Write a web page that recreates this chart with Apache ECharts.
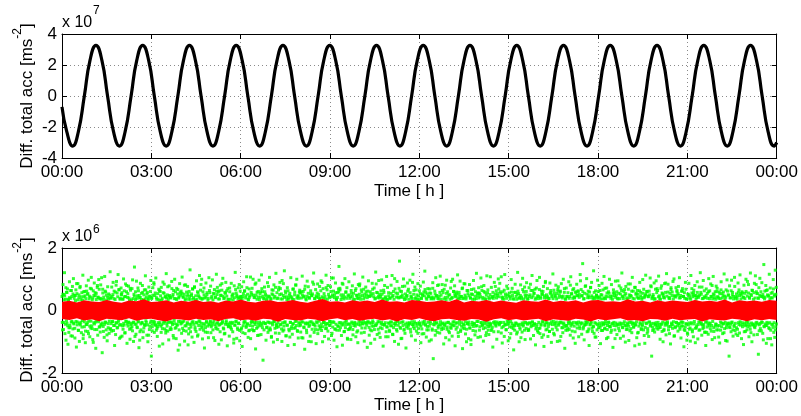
<!DOCTYPE html>
<html><head><meta charset="utf-8">
<script src="https://cdn.jsdelivr.net/npm/echarts@6/dist/echarts.min.js"></script>
<style>html,body{margin:0;padding:0;background:#fff}#c{width:801px;height:416px}</style>
</head><body><div id="c"></div>
<script>
const FONT = "'Liberation Sans', Arial, Helvetica, sans-serif";
// x tick labels (hours 0..24 every 3 h)
const timeTicks = [0, 3, 6, 9, 12, 15, 18, 21, 24];
const timeTickLabels = ['00:00','03:00','06:00','09:00','12:00','15:00','18:00','21:00','00:00'];
// top panel: difference total acceleration (x 10^7) read at extrema / eighth-periods
const sineTimes = [0, 0.16,
 0.36,0.55,0.75,0.94,1.14,1.34,1.53,1.73,
 1.93,2.12,2.32,2.51,2.71,2.91,3.10,3.30,
 3.50,3.69,3.89,4.08,4.28,4.48,4.67,4.87,
 5.07,5.26,5.46,5.65,5.85,6.05,6.24,6.44,
 6.64,6.83,7.03,7.22,7.42,7.62,7.81,8.01,
 8.21,8.40,8.60,8.79,8.99,9.19,9.38,9.58,
 9.78,9.97,10.17,10.36,10.56,10.76,10.95,11.15,
 11.35,11.54,11.74,11.93,12.13,12.33,12.52,12.72,
 12.92,13.11,13.31,13.50,13.70,13.90,14.09,14.29,
 14.49,14.68,14.88,15.07,15.27,15.47,15.66,15.86,
 16.06,16.25,16.45,16.64,16.84,17.04,17.23,17.43,
 17.63,17.82,18.02,18.21,18.41,18.61,18.80,19.00,
 19.20,19.39,19.59,19.78,19.98,20.18,20.37,20.57,
 20.77,20.96,21.16,21.35,21.55,21.75,21.94,22.14,
 22.34,22.53,22.73,22.92,23.12,23.32,23.51,23.71,
 23.91, 24];
const sineValues = [-0.7, -2.3,
 -3.23,-2.3,0,2.3,3.27,2.3,0,-2.3,
 -3.23,-2.3,0,2.3,3.27,2.3,0,-2.3,
 -3.23,-2.3,0,2.3,3.27,2.3,0,-2.3,
 -3.23,-2.3,0,2.3,3.27,2.3,0,-2.3,
 -3.23,-2.3,0,2.3,3.27,2.3,0,-2.3,
 -3.23,-2.3,0,2.3,3.27,2.3,0,-2.3,
 -3.23,-2.3,0,2.3,3.27,2.3,0,-2.3,
 -3.23,-2.3,0,2.3,3.27,2.3,0,-2.3,
 -3.23,-2.3,0,2.3,3.27,2.3,0,-2.3,
 -3.23,-2.3,0,2.3,3.27,2.3,0,-2.3,
 -3.23,-2.3,0,2.3,3.27,2.3,0,-2.3,
 -3.23,-2.3,0,2.3,3.27,2.3,0,-2.3,
 -3.23,-2.3,0,2.3,3.27,2.3,0,-2.3,
 -3.23,-2.3,0,2.3,3.27,2.3,0,-2.3,
 -3.23,-2.3,0,2.3,3.27,2.3,0,-2.3,
 -3.23, -3.0];
// bottom panel: green scatter (x 10^6), visible samples outside the red band, first set
const greenValuesA = [
.45,-.62,.83,-.38,.51,1.21,-.74,.36,-.95,.58,-.41,.69,-1.08,.33,-.55,.92,-.47,.39,-.81,.64,
-.35,.77,-.59,1.02,-.43,.48,-.88,.31,.66,-1.17,.54,-.37,.86,-.64,.42,-.99,.73,-.46,.35,-.71,
.57,-.32,1.13,-.78,.44,-.52,.61,-1.03,.38,.79,-.45,.52,-.67,.97,-.34,.46,-.84,.71,-.56,1.06,
-.49,.34,-.93,.63,-.39,.88,-.61,.47,-1.21,.55,-.33,.74,-.79,.41,.99,-.53,.37,-.69,.82,-.44,
.36,-1.35,.68,-.51,.43,-.86,1.09,-.37,.59,-.62,.32,-.97,.76,-.42,.53,-.73,.49,1.24,-.58,.4,
-.66,.45,-.36,.9,-.48,.62,-1.12,.35,-.77,.81,-.4,.56,-.54,1.15,-.31,.67,-.89,.39,-.45,.72,
.5,-.82,.37,-.6,1.01,-.47,.44,-.71,.85,-.34,.6,-1.05,.42,-.5,.78,-.39,.33,-.92,.65,-.57,
-.41,.7,-.65,.38,-.99,.52,1.39,-.44,.35,-.76,.94,-.53,.47,-.36,.63,-1.19,.4,-.68,.87,-.43,
.55,-.38,.8,-.87,.34,-.56,.66,-.48,1.11,-.33,.43,-.79,.58,-1.0,.37,.75,-.61,.46,-.4,.96,
-1.46,.41,-.52,.73,-.35,.89,-.7,.48,-.45,1.04,-.63,.36,-.83,.54,-.39,.68,-1.14,.32,.61,-.5,
.74,-.46,.39,-1.07,.57,-.34,.84,-.59,.45,-.72,1.18,-.42,.5,-.66,.35,-.94,.79,-.37,.42,-.55,
-.6,.93,-.4,.46,-.8,.64,-.32,1.0,-.57,.38,-.9,.71,-.45,.53,-1.27,.4,-.62,.86,-.35,.49,
.62,-.73,1.07,-.37,.44,-.64,.52,-.98,.33,.82,-.49,.59,-.43,.77,-1.1,.36,-.58,.45,1.3,-.68,
-.44,.53,-.85,.69,-.36,.41,-1.02,.76,-.53,.34,-.67,.95,-.4,.6,-.78,.47,-.33,1.12,-.6,.39,
.83,-.5,.36,-.91,.6,-.42,.72,-1.2,.4,-.55,.88,-.38,.51,-.7,.33,-.87,1.05,-.46,.57,-.34,
-.71,.4,-.47,.98,-.62,.55,-.35,.67,-.96,.43,-.52,1.16,-.41,.74,-.6,.37,-1.08,.63,-.45,.81,
.48,-.94,.65,-.39,1.03,-.56,.38,-.75,.58,-.44,.9,-.33,.46,-1.13,.7,-.5,.35,-.82,.6,-.38,
-.55,.87,-.42,.5,-.68,.34,-1.04,.79,-.47,1.22,-.36,.56,-.89,.44,-.61,.73,-.4,.41,-.97,.62,
.37,-.6,.76,-1.15,.45,-.49,.92,-.36,.63,-.74,.4,-.54,1.08,-.43,.52,-.86,.34,.69,-.63,.47,
-.9,.58,-.35,.71,-.5,1.0,-.65,.42,-.39,.84,-1.23,.49,-.57,.36,-.8,.61,-.44,.97,-.37,.54,
.43,-.77,1.14,-.46,.6,-1.59,.39,-.62,.75,-.41,.52,-.95,.34,-.53,.89,-.7,.46,-.38,1.06,-.56,
-.62,.38,-.83,.66,-.4,.5,-1.01,.82,-.35,.45,-.72,1.19,-.48,.57,-.93,.4,-.52,.74,-.31,.9,
.7,-.44,.53,-.99,.37,-.66,.86,-.5,1.27,-.39,.62,-.81,.44,-.47,.73,-1.12,.36,-.6,.49,-.85,
-.38,1.05,-.58,.41,-.76,.68,-.42,.35,-1.09,.59,-.55,.81,-.34,1.0,-.64,.47,-.88,.39,-.49,.65,
.56,-.69,.4,-.87,1.1,-.37,.61,-.53,.46,-1.24,.78,-.43,.34,-.71,.94,-.4,.55,-.99,.42,-.47,
-.82,.63,-.36,.48,-.6,.91,-.45,1.2,-.7,.38,-.5,.67,-1.06,.43,-.39,.85,-.62,.51,-.34,.77,
.39,-.52,.95,-.64,.44,-1.0,.7,-.38,.54,-.83,.36,-.47,1.13,-.57,.66,-.42,.8,-.91,.45,-.35,
-.48,.76,-.4,1.04,-.73,.5,-.36,.62,-.95,.41,-.59,.88,-.44,.35,-1.16,.57,-.51,.69,1.41,-.63,
.66,-.39,.5,-.8,.42,-1.11,.84,-.46,.37,-.67,1.02,-.55,.6,-.34,.73,-.89,.47,-.43,.92,-.6,
-.57,.44,-.93,.55,-.41,.79,-.61,.35,-.48,1.17,-.38,.64,-.84,.49,-.69,.4,-1.03,.83,-.45,.52,
.85,-.47,.36,-.72,.59,-.42,1.07,-.35,.68,-.98,.43,-.56,.75,-.4,.5,-1.18,.62,-.37,.46,-.79,
-.4,.6,-1.05,.47,-.65,.87,-.33,.54,-.5,.72,-.92,.39,1.23,-.46,.58,-.77,.41,-.6,.96,-.36,
.52,-.86,.45,-.43,.98,-.58,.37,-1.14,.65,-.47,.8,-.39,.44,-.68,1.09,-.52,.35,-.84,.57,-.41,
-.67,.4,-.49,.81,-.37,1.12,-.76,.48,-.55,.36,-.99,.69,-.42,.56,-.61,.93,-.35,.43,-1.08,.71,
1.58,-.54,.42,-.9,.61,-.38,.77,-.48,1.01,-.63,.35,-.73,.53,-1.2,.45,-.4,.88,-.57,.68,-.44,
-.39,.97,-.6,.46,-.81,.38,-.45,1.16,-.52,.64,-.36,.75,-.95,.41,-.66,.5,-.42,.86,-.58,.35,
.63,-.41,.78,-1.03,.4,-.59,.52,-.37,.91,-.74,.47,1.26,-.44,.58,-.85,.36,-.51,.7,-.62,.44,
-.5,.69,-.35,.55,-.94,.43,-.63,.89,-1.54,.37,-.46,.62,-.79,1.05,-.41,.48,-.7,.39,-.56,.82,
.46,-.72,1.1,-.45,.36,-.61,.83,-.4,.57,-1.07,.68,-.49,.42,-.87,.35,.97,-.53,.6,-.38,-.66,
-.94,.5,-.43,.72,-.57,.39,-.82,1.0,-.47,.61,-.36,.79,-1.13,.44,-.6,.53,-.39,1.14,-.71,.41,
.58,-.35,.94,-.67,.45,-.5,.7,-1.22,.38,-.44,.86,-.58,.49,-.75,.37,-1.0,.64,-.42,.54,-.9,
-.45,.83,-.56,.4,-1.09,.67,-.38,.51,-.64,.96,-.43,.36,-.78,.6,-.5,1.19,-.35,.47,-.86,.56,
.4,-.63,.52,-.84,1.04,-.39,.64,-.48,.42,-.98,.8,-.37,.57,-.55,.35,-.71,1.11,-.45,.66,-.52,
-.77,.37,-.5,1.08,-.42,.74,-.6,.45,-1.17,.39,-.68,.9,-.36,.53,-.46,.63,-.92,.48,-.41,1.01,
.69,-.46,.87,-.38,.55,-.72,.43,-1.04,.6,-.51,.36,-.83,1.15,-.44,.47,-.62,.78,-.35,.5,-.97,
-.42,.56,-.88,.44,-.35,.99,-.54,.71,-.47,.38,-1.26,.58,-.63,.84,-.4,.45,-.75,.52,1.22,-.48,
.54,-1.0,.41,-.6,.82,-.45,.37,-.69,1.03,-.5,.6,-.39,.75,-.93,.43,-.57,.89,-.41,.36,-.64,
-.6,.73,-.4,.5,-.91,.64,-.47,1.12,-.37,.46,-.8,.55,-.43,.68,-1.1,.4,-.53,.96,-.65,.38,
.45,-.58,1.06,-.74,.39,-.44,.62,-.86,.52,-.36,.77,-1.15,.47,-.49,.93,-.62,.41,-.39,.7,-.83,
-.51,.38,-.67,.88,-.43,.57,-1.02,.44,-.6,1.17,-.35,.65,-.78,.48,-.46,.81,-.37,.54,-.99,.62,
.76,-.43,.5,-.97,.62,-.37,.86,-.55,.4,-.71,1.0,-.45,.58,-1.21,.36,-.63,.72,-.48,.44,-.57,
-.37,.92,-.61,.45,-.79,1.08,-.42,.53,-.66,.39,-.88,.7,-.5,.43,-1.05,.6,-.4,.84,-.56,.47,
.6,-.84,.42,-.52,1.15,-.4,.67,-.76,.48,1.5,-.59,.37,-.94,.55,-.45,.79,-.38,1.02,-.68,.41,
-.66,.47,-1.12,.59,-.44,.73,-.36,.9,-.57,.42,-.5,1.27,-.73,.38,-.85,.63,-.41,.49,-.62,.97,
.43,-.55,.8,-.4,.64,-1.06,.51,-.47,.87,-.64,.37,-.42,1.09,-.59,.71,-.35,.46,-.9,.56,-.48,
-.86,.6,-.39,1.0,-.52,.45,-.7,.83,-.43,.36,-1.18,.66,-.48,.57,-.62,.94,-.4,.5,-.77,.39,
.95,-.46,.55,-.65,.38,-.89,.72,-.41,1.2,-.54,.44,-.82,.6,-.36,.49,-1.01,.77,-.5,.4,-.6,
-.44,.68,-.96,.5,-.38,.85,-.58,.46,-.71,1.06,-.4,.62,-.53,.37,-1.13,.74,-.45,.55,-.87,.64,
.52,-.7,.39,-1.08,.9,-.43,.58,-.61,.41,-.49,.99,-.37,.68,-.8,.45,-.54,1.13,-.42,.61,-.73,
-.58,.45,-.83,.62,-.37,1.04,-.5,.76,-1.46,.43,-.64,.51,-.41,.88,-.69,.38,-.47,.95,-.56,.7,
.64,-.38,1.1,-.55,.47,-.92,.36,-.45,.79,-.67,.53,-1.0,.42,-.6,.86,-.4,.58,-.78,1.18,-.46,
-.4,.84,-.62,.39,-.74,.55,-1.07,.67,-.44,.48,-.57,.93,-.36,1.01,-.81,.46,-.52,.73,-.39,.6,
.49,-.66,.77,-.43,1.05,-.53,.41,-.88,.62,-.37,.7,-.5,.45,-1.16,.57,-.64,.9,-.42,.37,-.95,
-.72,.52,-.46,.87,-.6,.4,-.98,1.12,-.39,.56,-.68,.44,-.84,.65,-.35,.8,-1.03,.48,-.55,.42,
.58,-.91,.46,-.37,.75,-.62,1.21,-.44,.52,-.79,.38,-.58,.96,-.45,.63,-.7,.41,-1.12,.69,-.36,
-.53,.39,-.76,1.02,-.48,.63,-.41,.85,-.66,.45,-.93,.37,1.09,-.55,.5,-.87,.6,-.43,.78,-.62,
.71,-.5,.43,-.85,.59,-1.04,.38,-.63,.92,-.4,.54,-.74,.47,-.42,1.17,-.58,.36,-.96,.66,-.47,
-.98,.62,-.44,.49,-1.46,.79,-.55,.4,-.68,.97,-.37,.58,-.82,.45,-.51,1.06,-.64,.39,-.75,.53,
.44,-.6,.88,-.39,.66,-.72,1.14,-.47,.37,-.9,.6,-.52,.43,-1.09,.81,-.4,.55,-.67,1.0,-.45,
-.62,.93,-.37,.56,-.84,.42,-.5,1.2,-.71,.48,-1.0,.64,-.43,.36,-.78,.87,-.55,1.11,-.4,.6,
.55,-.77,.4,-1.4,.73,-.46,1.03,-.58,.45,-.65,.89,-.38,.51,-.94,1.47,-.52,.62,-.43,.8,-1.05,
-.48,.66,-.9,.46,-.55,1.16,-.39,.72,-.63,.41,-1.1,.58,-.45,.99,-.7,.5,-.86,1.29,-.52,.74
];
// second set of green samples (x 10^6), mostly close to the red band
const greenValuesB = [
-.38,.52,-.61,.34,.47,-.44,.73,-.33,.58,-.49,.36,-.7,.41,-.55,.64,-.37,.45,-.82,.53,-.4,
.39,-.57,.48,-.35,.86,-.46,.34,-.63,.5,-.42,.77,-.38,.44,-.53,.33,-.9,.6,-.36,.47,-.66,
-.45,.62,-.39,.54,-.74,.37,-.5,.43,-.34,.69,-.58,.4,-1.02,.48,-.43,.57,-.37,.35,-.61,.8,
.43,-.36,.68,-.52,.39,-.47,1.05,-.4,.56,-.67,.35,-.44,.62,-.38,.49,-.78,.42,-.55,.37,-.34,
-.6,.4,-.42,.75,-.35,.51,-.64,.38,-.48,.59,-.39,.93,-.56,.44,-.37,.66,-.47,.36,-.85,.52,
.57,-.49,.36,-.41,.63,-.72,.45,-.35,.8,-.43,.54,-.37,.4,-.6,.71,-.46,.34,-.52,.98,-.39,
-.37,.46,-.83,.6,-.44,.39,-.55,.72,-.36,.48,-.95,.42,-.62,.35,-.4,.58,-.68,.5,-.45,.37,
.66,-.38,.53,-.46,.35,-.79,.44,-.51,.61,-.34,.38,-.65,.49,-.43,.84,-.37,.56,-.48,.41,-.57,
-.52,.36,-.45,.63,-.39,.47,-.7,.34,-.58,.91,-.41,.55,-.36,.43,-.64,.4,-.5,.76,-.38,.45,
.48,-.61,.4,-.37,.7,-.45,.52,-.88,.38,-.42,.6,-.54,.35,-.47,.67,-.35,.44,-1.1,.57,-.43,
-.4,.55,-.57,.42,-.34,.81,-.49,.37,-.66,.46,-.39,.52,-.75,.61,-.44,.36,-.53,.48,-.37,.69,
.36,-.44,.74,-.6,.47,-.38,.35,-.82,.56,-.48,.43,-.36,.65,-.41,1.0,-.55,.39,-.63,.5,-.46,
-.69,.43,-.35,.57,-.5,.39,-.43,.64,-.37,.78,-.52,.45,-.4,.34,-.87,.53,-.45,.41,-.58,.62,
.51,-.39,.6,-.47,.37,-.68,.49,-.42,.86,-.35,.46,-.59,.4,-.73,.55,-.38,.63,-.44,.36,-.52,
-.43,.72,-.5,.36,-.6,.45,-.38,.53,-.92,.41,-.47,.67,-.34,.49,-.56,.38,-.42,.83,-.64,.44,
.45,-.56,.38,-.71,.54,-.4,.62,-.36,.47,-.5,.73,-.43,.36,-.65,.42,-.48,1.07,-.39,.52,-.61,
-.36,.49,-.64,.41,-.45,.88,-.37,.58,-.53,.43,-.79,.35,-.49,.6,-.41,.7,-.55,.46,-.38,.37,
.6,-.42,.47,-.55,.39,-.37,.77,-.62,.44,-.4,.36,-.86,.53,-.46,.65,-.35,.4,-.57,.74,-.44,
-.54,.38,-.4,.66,-.73,.51,-.46,.37,-.59,.96,-.39,.48,-.62,.42,-.36,.56,-.81,.35,-.47,.63,
.41,-.65,.55,-.38,.45,-.52,.36,-.44,.69,-.57,.5,-.35,.82,-.48,.4,-.67,.46,-.39,.59,-.41,
-.47,.6,-.36,.5,-.88,.43,-.55,.68,-.4,.37,-.63,.45,-.42,.76,-.51,.39,-.37,.54,-1.0,.47,
.53,-.4,.84,-.45,.38,-.61,.47,-.36,.56,-.74,.42,-.49,.35,-.57,.63,-.43,.9,-.52,.4,-.38,
-.39,.45,-.58,.73,-.42,.36,-.66,.52,-.47,.41,-.35,.61,-.8,.44,-.53,1.04,-.38,.49,-.6,.57,
.37,-.63,.42,-.49,.6,-.39,.71,-.55,.35,-.46,.87,-.4,.5,-.68,.43,-.37,.58,-.45,.39,-.92,
-.61,.5,-.44,.39,-.52,.64,-.37,.45,-.78,.55,-.41,.36,-.5,.7,-.43,.48,-.65,.38,-.36,.79,
.44,-.37,.66,-.56,.48,-.43,.37,-.7,.52,-.39,.6,-.47,.41,-.36,.95,-.54,.45,-.62,.53,-.4,
-.5,.68,-.39,.44,-.61,.37,-.48,.85,-.42,.57,-.36,.46,-.72,.4,-.55,.63,-.38,.52,-.45,.36,
.58,-.45,.4,-.84,.36,-.53,.74,-.4,.47,-.63,.39,-.37,.55,-.49,.44,-.77,.61,-.42,1.02,-.47,
-.35,.43,-.66,.54,-.47,.4,-.39,.62,-.57,.45,-.89,.5,-.36,.41,-.6,.78,-.44,.37,-.52,.48,
.62,-.48,.36,-.42,.57,-.69,.43,-.36,.9,-.45,.52,-.58,.38,-.41,.66,-.5,.35,-.73,.46,-.39,
-.46,.54,-.5,.38,-.75,.48,-.43,.59,-.35,.67,-.47,.4,-.62,.53,-.38,.45,-.98,.56,-.42,.37,
.39,-.59,.71,-.44,.41,-.37,.53,-.64,.46,-.39,.8,-.51,.37,-.46,.58,-.36,.49,-.55,.64,-.43,
-.58,.37,-.45,.81,-.4,.55,-.6,.43,-.38,.5,-.71,.36,-.54,.93,-.46,.42,-.37,.61,-.49,.52,
.47,-.41,.59,-.53,.36,-.83,.5,-.44,.38,-.62,.45,-.39,.72,-.56,.4,-.47,.85,-.36,.43,-.6,
-.42,.64,-.37,.47,-.56,.4,-.94,.53,-.45,.36,-.51,.69,-.41,.46,-.66,.38,-.48,.55,-.35,.73,
.55,-.52,.44,-.39,.76,-.46,.37,-.58,.61,-.43,.38,-.8,.49,-.36,.57,-.63,.42,-.4,.51,-.45,
-.64,.41,-.53,.58,-.38,.46,-.42,.77,-.5,.4,-.37,.54,-.68,.44,-.43,.6,-.39,1.08,-.55,.38,
.42,-.38,.65,-.47,.53,-.61,.39,-.45,.7,-.36,.46,-.52,.37,-.74,.59,-.41,.48,-.58,.36,-.49,
-.47,.58,-.41,.36,-.69,.62,-.44,.39,-.55,.48,-.87,.43,-.4,.67,-.46,.37,-.63,.5,-.38,.61,
.49,-.44,.38,-.63,.45,-.4,.84,-.52,.41,-.37,.64,-.48,.55,-.43,.36,-.59,.72,-.45,.47,-.7,
-.38,.67,-.56,.43,-.47,.52,-.36,.61,-.78,.4,-.45,.89,-.39,.5,-.6,.44,-.42,.38,-.67,.55,
.64,-.36,.49,-.45,.38,-.73,.56,-.41,.44,-.54,.37,-.62,.68,-.47,.42,-.38,.59,-.83,.45,-.4,
-.55,.46,-.4,.7,-.52,.37,-.48,.45,-.63,.57,-.42,.39,-.36,.81,-.5,.54,-.44,.66,-.38,.43,
.4,-.68,.57,-.39,.48,-.44,.63,-.37,.51,-.58,.95,-.43,.46,-.4,.6,-.53,.38,-.47,.77,-.36,
-.44,.52,-.37,.62,-.59,.41,-.46,.74,-.4,.47,-.67,.36,-.52,.58,-.39,.43,-.85,.49,-.45,.39,
.61,-.47,.43,-.54,.37,-.64,.49,-.39,.66,-.45,.4,-.56,.38,-.42,.72,-.61,.44,-.37,.55,-.5,
-.52,.39,-.63,.46,-.41,.56,-.38,.48,-.9,.42,-.49,.6,-.44,.37,-.57,.79,-.4,.53,-.46,.64,
.46,-.55,.38,-.43,.67,-.48,.54,-.61,.36,-.4,.85,-.5,.41,-.65,.48,-.37,.62,-.44,.39,-.53,
-.41,.74,-.47,.52,-.36,.43,-.72,.4,-.5,.63,-.39,.47,-.58,.36,-.45,.55,-.62,.41,-1.05,.49,
.52,-.4,.61,-.66,.44,-.37,.5,-.47,.79,-.42,.38,-.53,.45,-.6,.36,-.44,.68,-.39,.57,-.48,
-.6,.44,-.45,.38,-.54,.71,-.43,.56,-.37,.49,-.64,.4,-.47,.88,-.41,.46,-.36,.59,-.52,.42,
.38,-.51,.73,-.4,.59,-.46,.37,-.82,.47,-.55,.43,-.38,.64,-.49,.54,-.42,.4,-.6,.48,-.37,
-.49,.62,-.38,.45,-.61,.39,-.53,.68,-.44,.37,-.76,.52,-.4,.47,-.56,.36,-.43,.7,-.62,.5,
.57,-.43,.47,-.57,.36,-.5,.92,-.45,.42,-.63,.49,-.36,.58,-.41,.75,-.47,.39,-.54,.44,-.69,
-.37,.48,-.7,.55,-.44,.6,-.4,.38,-.58,.45,-.48,.8,-.35,.53,-.67,.41,-.5,.36,-.45,.61,
.44,-.62,.39,-.48,.54,-.37,.66,-.52,.4,-.43,.59,-.71,.46,-.38,.43,-.55,.98,-.42,.5,-.4,
-.53,.41,-.44,.63,-.39,.5,-.62,.37,-.47,.77,-.41,.44,-.55,.36,-.8,.58,-.45,.48,-.36,.55,
.5,-.39,.56,-.45,.42,-.68,.38,-.49,.61,-.36,.46,-.52,.83,-.44,.39,-.6,.52,-.4,.65,-.46,
-.46,.57,-.52,.4,-.47,.83,-.38,.54,-.43,.39,-.65,.49,-.41,.6,-.37,.45,-.73,.42,-.5,.37,
.43,-.48,.64,-.38,.5,-.41,.47,-.58,.37,-.9,.55,-.44,.4,-.54,.69,-.39,.46,-.62,.52,-.43
];
// bottom panel: red series, dense band (x 10^6) — upper / lower envelope every 15 min
const redUpper = [
.28,.31,.26,.33,.29,.27,.34,.28,.25,.32,
.30,.36,.27,.29,.33,.26,.31,.28,.34,.27,
.30,.25,.32,.29,.35,.28,.26,.31,.33,.27,
.29,.34,.28,.25,.31,.37,.28,.30,.26,.33,
.29,.32,.27,.35,.28,.30,.26,.34,.31,.27,
.29,.33,.28,.36,.26,.31,.29,.34,.27,.32,
.28,.25,.33,.30,.28,.35,.27,.31,.29,.33,
.26,.32,.34,.28,.30,.27,.36,.29,.31,.26,
.33,.28,.32,.30,.27,.34,.29,.31,.28,.35,
.26,.33,.30,.32,.28,.34,.31];
const redLower = [
-.27,-.30,-.25,-.32,-.28,-.34,-.26,-.29,-.31,-.25,
-.33,-.28,-.26,-.31,-.35,-.27,-.29,-.32,-.26,-.30,
-.28,-.34,-.27,-.25,-.31,-.29,-.33,-.26,-.28,-.36,
-.27,-.30,-.32,-.26,-.29,-.34,-.28,-.25,-.31,-.27,
-.33,-.29,-.26,-.32,-.28,-.35,-.27,-.30,-.25,-.31,
-.34,-.28,-.26,-.30,-.33,-.27,-.29,-.36,-.28,-.25,
-.31,-.27,-.32,-.29,-.26,-.34,-.28,-.30,-.33,-.26,
-.29,-.35,-.27,-.31,-.28,-.25,-.32,-.30,-.34,-.27,
-.28,-.33,-.26,-.31,-.29,-.27,-.35,-.28,-.30,-.32,
-.26,-.29,-.34,-.28,-.31,-.27,-.30];

const stepA = 24 / greenValuesA.length;
const stepB = 24 / greenValuesB.length;
const bandStep = 24 / (redUpper.length - 1);

const chart = echarts.init(document.getElementById('c'), null, {renderer: 'canvas'});
const labelFmt = v => { const i = timeTicks.indexOf(v); return i >= 0 ? timeTickLabels[i] : ''; };
const gridLine = {show: true, lineStyle: {color: '#8a8a8a', width: 1, type: [1, 3]}};
function xAx(grid, pos, labels) {
  return {type: 'value', gridIndex: grid, position: pos, min: 0, max: 24, interval: 3,
    axisLine: {show: true, onZero: false, lineStyle: {color: '#000', width: 1}},
    axisTick: {show: true, inside: true, length: 5, lineStyle: {color: '#000'}},
    axisLabel: {show: labels, formatter: labelFmt, color: '#000', fontSize: 17, fontFamily: FONT, margin: 6},
    splitLine: labels ? gridLine : {show: false}};
}
function yAx(grid, pos, labels, mn, mx) {
  return {type: 'value', gridIndex: grid, position: pos, min: mn, max: mx, interval: 2,
    axisLine: {show: true, onZero: false, lineStyle: {color: '#000', width: 1}},
    axisTick: {show: true, inside: true, length: 5, lineStyle: {color: '#000'}},
    axisLabel: {show: labels, color: '#000', fontSize: 17, fontFamily: FONT, margin: 5},
    splitLine: labels ? gridLine : {show: false}};
}
const txt = (x, y, text, size, align) => ({type: 'text', x: x, y: y, silent: true, z: 10,
  style: {text: text, fill: '#000', font: size + 'px ' + FONT, fontSize: size, fontFamily: FONT,
    align: align || 'left', verticalAlign: 'middle', textAlign: align || 'left', textVerticalAlign: 'middle'}});
const yLabel = (cx, cy) => ({type: 'text', x: cx, y: cy, rotation: Math.PI / 2, silent: true, z: 10,
  style: {text: '{a|Diff. total acc [ms}{s|-2}{a|]}', fill: '#000',
    align: 'center', verticalAlign: 'middle', textAlign: 'center', textVerticalAlign: 'middle',
    rich: {a: {fontSize: 17, fontFamily: FONT, lineHeight: 30, fill: '#000'},
           s: {fontSize: 12, fontFamily: FONT, lineHeight: 12, verticalAlign: 'top', fill: '#000'}}}});

chart.setOption({
  animation: false,
  backgroundColor: '#fff',
  grid: [
    {left: 62, top: 34, width: 716, height: 124},
    {left: 62, top: 248, width: 716, height: 125}
  ],
  xAxis: [xAx(0, 'bottom', true), xAx(0, 'top', false), xAx(1, 'bottom', true), xAx(1, 'top', false)],
  yAxis: [yAx(0, 'left', true, -4, 4), yAx(0, 'right', false, -4, 4), yAx(1, 'left', true, -2, 2), yAx(1, 'right', false, -2, 2)],
  graphic: [
    txt(62, 23, 'x 10', 16),
    txt(93, 11, '7', 12),
    txt(62, 236.5, 'x 10', 16),
    txt(93, 230, '6', 12),
    txt(409, 191, 'Time [ h ]', 17, 'center'),
    txt(409, 405, 'Time [ h ]', 17, 'center'),
    yLabel(27, 96),
    yLabel(27, 310)
  ],
  series: [
    {type: 'line', xAxisIndex: 0, yAxisIndex: 0, data: sineTimes.map((t, i) => [t, sineValues[i]]),
      smooth: true, showSymbol: false, symbol: 'none', lineStyle: {color: '#000', width: 3.2}, silent: true},
    {type: 'scatter', xAxisIndex: 2, yAxisIndex: 2, data: greenValuesA.map((v, i) => [i * stepA, v]),
      symbol: 'rect', symbolSize: 3, itemStyle: {color: '#00ff00'}, silent: true},
    {type: 'scatter', xAxisIndex: 2, yAxisIndex: 2, data: greenValuesB.map((v, i) => [(i + 0.5) * stepB, v]),
      symbol: 'rect', symbolSize: 3, itemStyle: {color: '#00ff00'}, silent: true},
    {type: 'custom', xAxisIndex: 2, yAxisIndex: 2, data: [[0, 0]], silent: true, z: 5,
      renderItem: (params, api) => {
        const pts = [];
        for (let i = 0; i < redUpper.length; i++) pts.push(api.coord([i * bandStep, redUpper[i]]));
        for (let i = redLower.length - 1; i >= 0; i--) pts.push(api.coord([i * bandStep, redLower[i]]));
        return {type: 'polygon', shape: {points: pts}, style: {fill: '#ff0000'}};
      }}
  ]
});
</script>
</body></html>
